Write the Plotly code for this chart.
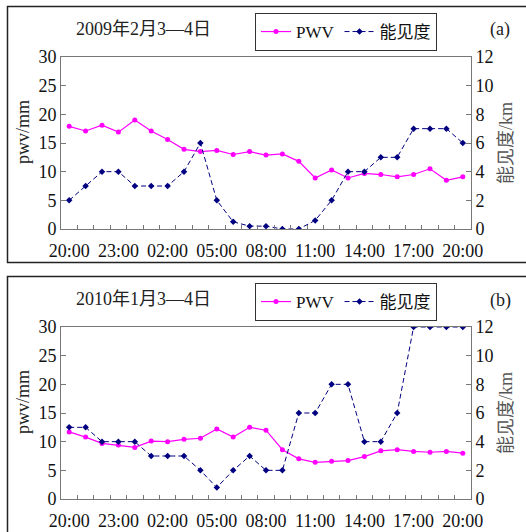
import plotly.graph_objects as go

# ---------------- data ----------------
hours = list(range(25))  # 20:00 day1 ... 20:00 day2, hourly
tick_pos = [0, 3, 6, 9, 12, 15, 18, 21, 24]
tick_labels = ["20:00", "23:00", "02:00", "05:00", "08:00", "11:00", "14:00", "17:00", "20:00"]

pwv_a = [17.9, 17.1, 18.1, 16.9, 19.0, 17.1, 15.6, 13.9, 13.5, 13.7, 13.0, 13.5, 12.9,
         13.1, 11.8, 8.9, 10.3, 8.9, 9.7, 9.5, 9.1, 9.5, 10.5, 8.5, 9.1]
vis_a = [2, 3, 4, 4, 3, 3, 3, 4, 6, 2, 0.5, 0.2, 0.2, 0, 0, 0.6, 2, 4, 4, 5, 5, 7, 7, 7, 6]

pwv_b = [11.7, 10.8, 9.7, 9.4, 9.0, 10.1, 10.0, 10.4, 10.6, 12.2, 10.8, 12.5, 12.0,
         8.6, 7.0, 6.4, 6.6, 6.7, 7.4, 8.4, 8.6, 8.3, 8.15, 8.3, 8.0]
vis_b = [5, 5, 4, 4, 4, 3, 3, 3, 2, 0.8, 2, 3, 2, 2, 6, 6, 8, 8, 4, 4, 6, 12, 12, 12, 12]

titles = ["2009年2月3—4日", "2010年1月3—4日"]
tags = ["(a)", "(b)"]
series_names = ["PWV", "能见度"]
left_title = "pwv/mm"
right_title = "能见度/km"

# ---------------- style ----------------
W, H = 526, 532
SERIF = "Liberation Serif, Times New Roman, Noto Sans CJK SC, serif"
PINK = "#FF00FF"
NAVY = "#000080"
AXC = "#777777"
PX0, PX1 = 61, 471
offsets = [0, 270]

def fy(py):
    return 1 - py / H

fig = go.Figure()
panels = [(pwv_a, vis_a), (pwv_b, vis_b)]
for i, (pwv, vis) in enumerate(panels):
    off = offsets[i]
    xa = "x" if i == 0 else "x2"
    yl = "y" if i == 0 else "y3"
    yr = "y2" if i == 0 else "y4"
    lg = "legend" if i == 0 else "legend2"
    fig.add_trace(go.Scatter(x=hours, y=pwv, name=series_names[0], mode="lines+markers",
                             line=dict(color=PINK, width=1.2),
                             marker=dict(color=PINK, size=5, symbol="circle"),
                             xaxis=xa, yaxis=yl, legend=lg))
    fig.add_trace(go.Scatter(x=hours, y=vis, name=series_names[1], mode="lines+markers",
                             line=dict(color=NAVY, width=1, dash="5px,3px"),
                             marker=dict(color=NAVY, size=5, symbol="diamond"),
                             xaxis=xa, yaxis=yr, legend=lg))

    dom = [fy(229 + off), fy(57 + off)]
    xkey = "xaxis" if i == 0 else "xaxis2"
    ylkey = "yaxis" if i == 0 else "yaxis3"
    yrkey = "yaxis2" if i == 0 else "yaxis4"
    fig.layout[xkey] = dict(domain=[PX0 / W, PX1 / W], anchor=yl, range=[-0.5, 24.5],
                            tickvals=tick_pos, ticktext=tick_labels, ticks="",
                            ticklabelstandoff=5, automargin=False,
                            showline=True, linecolor=AXC, linewidth=1, mirror=True,
                            showgrid=False, zeroline=False,
                            tickfont=dict(family=SERIF, size=18, color="#111"),
                            minor=dict(tickvals=[h + 0.5 for h in range(24)], ticks="inside",
                                       ticklen=4, tickcolor=AXC, showgrid=False))
    fig.layout[ylkey] = dict(domain=dom, anchor=xa, range=[0, 30], dtick=5,
                             ticks="inside", ticklen=5, tickcolor=AXC, automargin=False,
                             showline=True, linecolor=AXC, linewidth=1,
                             showgrid=False, zeroline=False,
                             tickfont=dict(family=SERIF, size=18, color="#111"))
    fig.layout[yrkey] = dict(domain=dom, anchor=xa, overlaying=yl, side="right",
                             range=[0, 12], dtick=2, automargin=False,
                             ticks="inside", ticklen=5, tickcolor=AXC,
                             showline=True, linecolor=AXC, linewidth=1,
                             showgrid=False, zeroline=False,
                             tickfont=dict(family=SERIF, size=18, color="#111"))

    # panel frame
    fig.add_shape(type="rect", xref="paper", yref="paper",
                  x0=7.5 / W, x1=1.05, y0=fy(262.5 + off) if i == 0 else -0.05, y1=fy(6.5 + off),
                  line=dict(color="#222", width=1.5), fillcolor="rgba(0,0,0,0)", layer="below")

    # titles
    fig.add_annotation(x=143 / W, y=fy(29 + off), xref="paper", yref="paper",
                       text=titles[i], showarrow=False, xanchor="center", yanchor="middle",
                       font=dict(family=SERIF, size=18, color="#222"))
    fig.add_annotation(x=500 / W, y=fy(30 + off), xref="paper", yref="paper",
                       text=tags[i], showarrow=False, xanchor="center", yanchor="middle",
                       font=dict(family=SERIF, size=18, color="#222"))
    fig.add_annotation(x=23 / W, y=fy(132 + off), xref="paper", yref="paper",
                       text=left_title, showarrow=False, textangle=-90,
                       xanchor="center", yanchor="middle",
                       font=dict(family=SERIF, size=18, color="#222"))
    fig.add_annotation(x=506 / W, y=fy(143 + off), xref="paper", yref="paper",
                       text=right_title, showarrow=False, textangle=-90,
                       xanchor="center", yanchor="middle",
                       font=dict(family=SERIF, size=18, color="#555"))

legend_style = dict(orientation="h", xanchor="left", yanchor="top",
                    bordercolor="#333", borderwidth=1, bgcolor="white",
                    font=dict(family=SERIF, size=17, color="#111"),
                    itemwidth=30, tracegroupgap=0)
fig.update_layout(
    width=W, height=H, margin=dict(l=0, r=0, t=0, b=0),
    paper_bgcolor="white", plot_bgcolor="white",
    legend=dict(x=255 / W, y=fy(13), **legend_style),
    legend2=dict(x=255 / W, y=fy(283), **legend_style),
    showlegend=True,
)

fig.write_html("out.html")
